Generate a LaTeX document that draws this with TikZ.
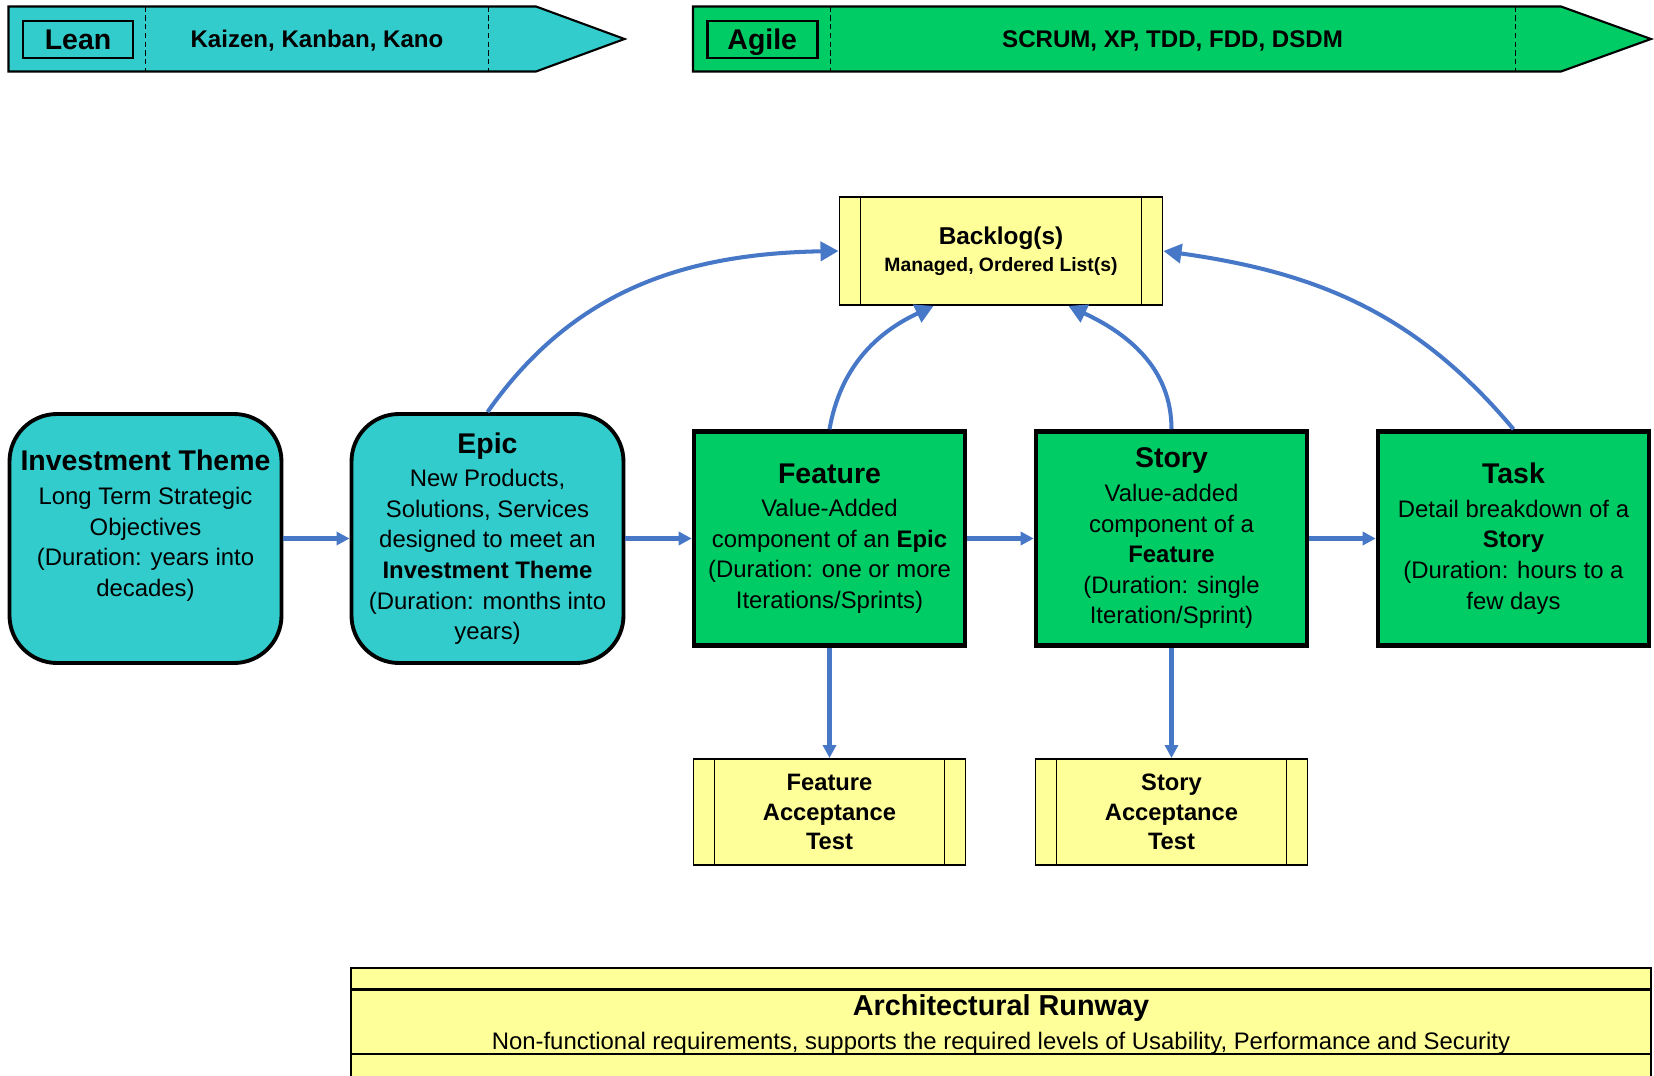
\documentclass[tikz,border=0pt]{standalone}
\usepackage{fontspec}
\setmainfont{Liberation Sans}
\usetikzlibrary{arrows.meta}
\definecolor{leancyan}{RGB}{51,204,204}
\definecolor{agilegreen}{RGB}{0,204,102}
\definecolor{notepaper}{RGB}{255,255,153}
\definecolor{linkblue}{RGB}{71,120,200}
\newcommand{\bodyfont}{\fontsize{13.6}{17.4}\selectfont}
\newcommand{\boxtitle}[1]{{\fontsize{16.2}{17.4}\selectfont\bfseries #1}\\[1.8pt]}
\tikzset{
every picture/.style={line join=miter},
theme/.style={draw, line width=2.2pt, fill=leancyan, rounded corners=0.95cm, minimum width=5.44cm, minimum height=4.98cm, align=center, font=\bodyfont},
work/.style={draw, line width=2.6pt, fill=agilegreen, minimum width=5.42cm, minimum height=4.28cm, align=center, font=\bodyfont},
listing/.style={draw, line width=1.1pt, fill=notepaper, align=center,
  path picture={\draw[line width=1.1pt] ([xshift=0.42cm]path picture bounding box.north west) -- ([xshift=0.42cm]path picture bounding box.south west)
    ([xshift=-0.42cm]path picture bounding box.north east) -- ([xshift=-0.42cm]path picture bounding box.south east);}},
flow/.style={draw=linkblue, line width=2.3pt, -{Triangle[length=0.26cm,width=0.26cm]}},
feed/.style={draw=linkblue, line width=2.3pt, -{Triangle[length=0.36cm,width=0.38cm]}},
band/.style={draw, line width=1.2pt},
tag/.style={draw, line width=1.6pt, minimum width=2.2cm, minimum height=0.74cm, text height=11.6pt, text depth=0pt, font=\bfseries\fontsize{16.2}{18}\selectfont},
methods/.style={text height=9.9pt, text depth=0pt, font=\bfseries\fontsize{13.7}{16}\selectfont}
}

\begin{document}
\begin{tikzpicture}
  \clip (0,0) rectangle (33.08,-21.5);
  \draw[band, fill=leancyan] (0.17,-0.13) -- (10.72,-0.13) -- (12.49,-0.78) -- (10.72,-1.43) -- (0.17,-1.43) -- cycle;
  \draw[densely dashed, thin] (2.91,-0.13) -- (2.91,-1.43) (9.77,-0.13) -- (9.77,-1.43);
  \node[tag] (lean) at (1.56,-0.79) {Lean};
  \node[methods] (leanlist) at (6.34,-0.78) {Kaizen, Kanban, Kano};
  \draw[band, fill=agilegreen] (13.86,-0.13) -- (31.22,-0.13) -- (33.02,-0.78) -- (31.22,-1.43) -- (13.86,-1.43) -- cycle;
  \draw[densely dashed, thin] (16.6,-0.13) -- (16.6,-1.43) (30.3,-0.13) -- (30.3,-1.43);
  \node[tag] (agile) at (15.245,-0.79) {Agile};
  \node[methods] (agilelist) at (23.45,-0.78) {SCRUM, XP, TDD, FDD, DSDM};

  \node[listing, minimum width=6.46cm, minimum height=2.16cm, font=\bfseries\fontsize{13.85}{15.6}\selectfont] (backlog) at (20.02,-5.02)
    {Backlog(s)\\{\fontsize{11}{15.6}\selectfont Managed, Ordered List(s)}};

  \node[theme] (theme) at (2.91,-10.77) {\boxtitle{Investment Theme}Long Term Strategic\\Objectives\\(Duration: years into\\decades)\\\mbox{}};
  \node[theme] (epic) at (9.75,-10.77) {\boxtitle{Epic}New Products,\\Solutions, Services\\designed to meet an\\\textbf{Investment Theme}\\(Duration: months into\\years)};
  \node[work] (feature) at (16.59,-10.77) {\boxtitle{Feature}Value-Added\\component of an \textbf{Epic}\\(Duration: one or more\\Iterations/Sprints)};
  \node[work] (story) at (23.43,-10.77) {\boxtitle{Story}Value-added\\component of a\\\textbf{Feature}\\(Duration: single\\Iteration/Sprint)};
  \node[work] (task) at (30.27,-10.77) {\boxtitle{Task}Detail breakdown of a\\\textbf{Story}\\(Duration: hours to a\\few days};

  \node[listing, minimum width=5.44cm, minimum height=2.12cm, font=\bfseries\fontsize{13.5}{16.7}\selectfont] (featuretest) at (16.59,-16.24) {Feature\\Acceptance\\Test};
  \node[listing, minimum width=5.44cm, minimum height=2.12cm, font=\bfseries\fontsize{13.5}{16.7}\selectfont] (storytest) at (23.43,-16.24) {Story\\Acceptance\\Test};

  \foreach \a/\b in {theme/epic, epic/feature, feature/story, story/task} {
    \draw[flow] (\a.east) -- (\b.west);
  }
  \draw[flow] (feature.south) -- (featuretest.north);
  \draw[flow] (story.south) -- (storytest.north);

  \draw[feed] (epic.north) to[out=55,in=181] (backlog.west);
  \draw[feed] (feature.north) to[out=80,in=205] ([xshift=-1.35cm]backlog.south);
  \draw[feed] (story.north) to[out=90,in=-25] ([xshift=1.35cm]backlog.south);
  \draw[feed] (task.north) to[out=130,in=-8] (backlog.east);

  \fill[notepaper] (7.02,-19.36) rectangle (33.02,-21.8);
  \draw[band] (7.02,-21.8) -- (7.02,-19.36) -- (33.02,-19.36) -- (33.02,-21.8);
  \draw[band] (7.02,-19.79) -- (33.02,-19.79) (7.02,-21.08) -- (33.02,-21.08);
  \node[align=center, font=\fontsize{13.6}{19.2}\selectfont] (runway) at (20.02,-20.49)
    {{\fontsize{16.4}{19.2}\selectfont\bfseries Architectural Runway}\\Non-functional requirements, supports the required levels of Usability, Performance and Security};
\end{tikzpicture}
\end{document}
